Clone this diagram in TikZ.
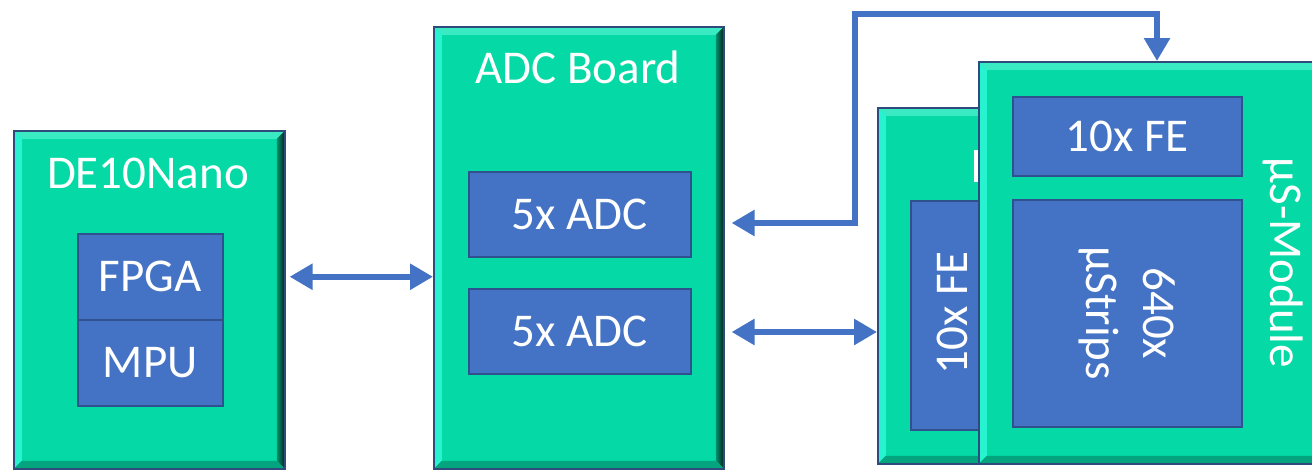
\documentclass[tikz,border=0pt]{standalone}
\usepackage{fontspec}
\setmainfont{Carlito}
\usetikzlibrary{arrows.meta,calc}

\definecolor{boardg}{HTML}{05D9A5}
\definecolor{bvtop}{HTML}{3AEAC2}
\definecolor{bvleft}{HTML}{28F3D0}
\definecolor{bvright}{HTML}{058F6E}
\definecolor{bvbot}{HTML}{04A47E}
\definecolor{bordc}{HTML}{2F4B7C}
\definecolor{chipb}{HTML}{4472C4}
\definecolor{chipe}{HTML}{2F528F}

\tikzset{
  lbl/.style={text=white, font=\fontsize{47}{57}\selectfont, inner sep=0pt},
  board/.style={rectangle, draw=bordc, line width=1.6pt, fill=boardg,
    inner sep=0pt, anchor=north west,
    path picture={
      \coordinate (bvnw) at (path picture bounding box.north west);
      \coordinate (bvne) at (path picture bounding box.north east);
      \coordinate (bvsw) at (path picture bounding box.south west);
      \coordinate (bvse) at (path picture bounding box.south east);
      \fill[bvtop] (bvnw) -- (bvne) -- ($(bvne)+(-8,8)$) -- ($(bvnw)+(8,8)$) -- cycle;
      \fill[bvleft] (bvnw) -- ($(bvnw)+(8,8)$) -- ($(bvsw)+(8,-8)$) -- (bvsw) -- cycle;
      \shade[left color=bvright, right color=black!75!bvright]
        (bvne) -- (bvse) -- ($(bvse)+(-8,-8)$) -- ($(bvne)+(-8,8)$) -- cycle;
      \fill[bvbot] (bvsw) -- ($(bvsw)+(8,-8)$) -- ($(bvse)+(-8,-8)$) -- (bvse) -- cycle;
    }},
  chip/.style={rectangle, draw=chipe, line width=1.5pt, fill=chipb,
    inner sep=0pt, anchor=north west, lbl},
  link/.style={draw=chipb, line width=6.5pt, line join=miter,
    {Triangle[length=23pt,width=25pt]}-{Triangle[length=23pt,width=25pt]}}
}

\begin{document}
\begin{tikzpicture}[x=1pt,y=-1pt]
\useasboundingbox (0,0) rectangle (1312,469);
\clip (0,0) rectangle (1312,469);

% DE10-Nano board
\node[board, minimum width=271pt, minimum height=338pt] (de10) at (13,130) {};
\node[lbl] (de10t) at (148,173) {DE10Nano};
\node[chip, minimum width=145pt, minimum height=86pt] (fpga) at (77,233) {FPGA};
\node[chip, minimum width=145pt, minimum height=86pt] (mpu) at (77,319) {MPU};

% ADC board
\node[board, minimum width=290pt, minimum height=442pt] (adc) at (433,26) {};
\node[lbl] (adct) at (578,67) {ADC Board};
\node[chip, minimum width=222pt, minimum height=85pt] (adc1) at (468,171) {5x ADC};
\node[chip, minimum width=222pt, minimum height=85pt] (adc2) at (468,288) {5x ADC};

% second strip module (behind)
\node[board, minimum width=200pt, minimum height=356pt] (mod2) at (877,107) {};
\node[chip, minimum width=110pt, minimum height=229pt] (fe2) at (910,200) {};
\node[lbl, rotate=90] (fe2t) at (952,313) {10x FE};
\fill[white] (974,150) rectangle (978,182);

% first strip module (front)
\node[board, minimum width=360pt, minimum height=402pt] (mod1) at (978,61) {};
\node[chip, minimum width=229pt, minimum height=79pt] (fe1) at (1012,96) {10x FE};
\node[chip, minimum width=229pt, minimum height=227pt] (strips) at (1012,199) {};
\node[lbl, rotate=-90, align=center] (stript) at (strips.center) {640x\\µStrips};
\node[lbl, rotate=-90] (mod1t) at (1283,263) {µS-Module};

% connections
\coordinate (bend) at (855,14);
\coordinate (drop) at (1157,61);
\draw[link] ([xshift=4pt]de10.east |- fpga.center) -- (adc.west |- fpga.center);
\draw[link] ([xshift=7pt]adc.east |- 0,332) -- (mod2.west |- 0,332);
\draw[link] ([xshift=7pt]adc.east |- 0,223) -| (bend) -| (drop);
\end{tikzpicture}
\end{document}
